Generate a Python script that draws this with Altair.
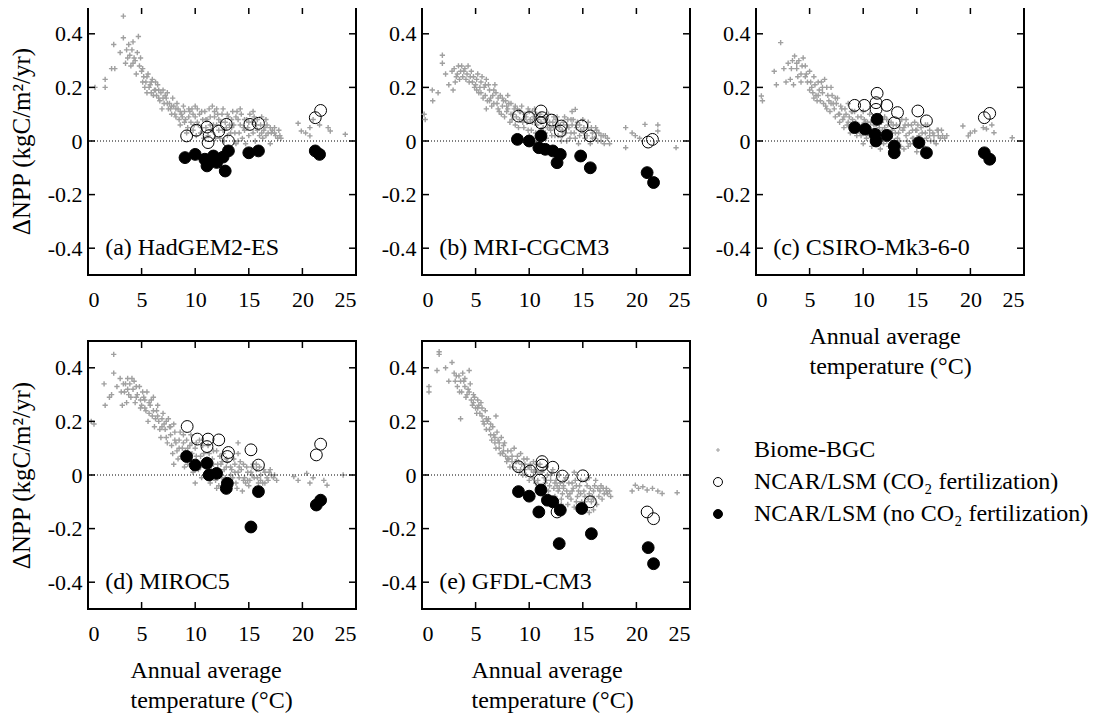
import altair as alt
import pandas as pd

FONT = "Liberation Serif"
GREY = "#a0a0a0"
W, H = 268, 268

SERIES = ["Biome-BGC", "NCAR/LSM (CO₂ fertilization)", "NCAR/LSM (no CO₂ fertilization)"]
PANEL_LABELS = ["(a) HadGEM2-ES", "(b) MRI-CGCM3", "(c) CSIRO-Mk3-6-0", "(d) MIROC5", "(e) GFDL-CM3"]
X_TICKS = [0, 5, 10, 15, 20, 25]
Y_TICKS = [-0.4, -0.2, 0, 0.2, 0.4]
INNER_X_TICKS = [5, 10, 15, 20]

# ---- Biome-BGC (grey crosses): (temperature, dNPP)
bgc_a = [(0.65,0.20),(1.6,0.23),(1.6,0.20),(2.2,0.27),(2.5,0.27),(2.4,0.36),(3.3,0.385),(3.3,0.466),(4.2,0.37),(4.7,0.39),
         (3.0,0.33),(3.6,0.34),(3.9,0.32),(4.1,0.34),(4.4,0.30),(4.6,0.33),(3.5,0.29),(4.0,0.28),(4.8,0.28),(5.0,0.26),(4.5,0.25),
         (5.2,0.24),(5.4,0.22),(5.6,0.25),(5.3,0.20),(5.8,0.21),(5.9,0.18),(6.0,0.23),(5.5,0.18),
         (6.2,0.19),(6.4,0.17),(6.5,0.21),(6.7,0.15),(6.8,0.18),(7.0,0.19),(7.1,0.14),(6.9,0.12),
         (7.3,0.16),(7.5,0.12),(7.6,0.14),(7.8,0.10),(8.0,0.13),(7.9,0.16),(8.2,0.09),(8.4,0.12),
         (8.6,0.06),(8.7,0.10),(8.9,0.13),(9.1,0.08),(9.3,0.05),(9.5,0.11),(9.6,0.07),(9.8,0.04),(10.0,0.09),(10.2,0.12),(10.3,0.06),
         (10.5,0.03),(10.7,0.08),(10.9,0.11),(11.0,0.05),(11.2,0.02),(11.4,0.09),(11.6,0.13),(11.7,0.06),(11.9,0.01),(12.1,0.10),(12.2,0.04),
         (12.4,0.07),(12.6,0.12),(12.7,0.00),(12.9,0.05),(13.1,0.09),(13.3,0.03),(13.5,0.11),(13.6,0.06),(13.8,-0.01),(14.0,0.08),(14.1,0.03),
         (14.3,0.10),(14.5,0.05),(14.7,-0.01),(14.8,0.08),(15.0,0.02),(15.3,0.07),(15.5,0.09),(15.6,0.00),(15.8,0.04),(16.1,0.06),
         (16.3,0.01),(16.5,0.05),(16.8,0.03),(17.0,-0.01),(17.2,0.04),(17.5,0.02),(17.9,0.02),(16.6,0.08),
         (19.6,0.066),(19.9,0.037),(20.7,0.019),(20.7,0.05),(21.0,0.08),(21.6,0.06),(22.4,0.05),(22.6,0.037),(24.0,0.025),(20.3,0.03),
         (5.1,0.22),(5.7,0.20),(6.1,0.17),(6.3,0.22),(6.6,0.19),(7.2,0.17),(7.4,0.14),(7.7,0.12),(8.1,0.10),(8.3,0.14),(8.5,0.08),
         (8.8,0.09),(9.0,0.11),(9.2,0.03),(9.4,0.09),(9.7,0.12),(9.9,0.06),(10.1,0.02),(10.4,0.10),(10.6,0.05),(10.8,0.01),(11.1,0.08),
         (11.3,0.12),(11.5,0.04),(11.8,0.09),(12.0,0.06),(12.3,0.01),(12.5,0.10),(12.8,0.07),(13.0,0.02),(13.2,0.06),(13.4,0.08),
         (13.7,0.03),(13.9,0.11),(14.2,0.06),(14.4,0.01),(14.6,0.08),(14.9,0.05),(15.1,0.10),(15.4,0.03),(15.7,0.06),(16.0,0.02),
         (16.2,0.09),(16.4,0.04),(16.7,0.06),(17.1,0.03),(17.4,0.05),(17.7,0.01),(4.3,0.31),(3.8,0.36),
         (3.7,0.31),(4.2,0.29),(4.9,0.31),(5.1,0.27),(5.5,0.24),(5.9,0.22),(6.3,0.19),(6.6,0.16),(7.0,0.16),(7.4,0.18),(7.8,0.13),
         (8.2,0.12),(8.6,0.11),(9.0,0.07),(9.4,0.12),(9.8,0.10),(10.2,0.07),(10.6,0.11),(11.0,0.08),(11.4,0.06),(11.8,0.11),(12.2,0.08),
         (12.6,0.04),(13.0,0.10),(13.4,0.05),(13.8,0.09),(14.2,0.12),(14.6,0.04),(15.0,0.07),(15.4,0.11),(15.8,0.08),(16.2,0.03),
         (16.6,0.02),(17.0,0.05),(17.4,0.03),(17.8,0.04),(18.0,0.01),(12.0,0.12),(10.0,0.13),(14.0,0.00)]
bgc_b = [(0.2,0.10),(0.3,0.08),(1.0,0.15),(0.96,0.19),(1.5,0.18),(1.9,0.32),(1.9,0.29),(2.2,0.25),(2.5,0.21),(2.8,0.26),(3.0,0.27),
         (3.2,0.24),(3.4,0.28),(3.6,0.26),(3.8,0.24),(4.0,0.27),(4.2,0.25),(3.1,0.22),(4.4,0.22),(4.6,0.26),(4.8,0.24),(2.9,0.19),
         (5.0,0.21),(5.2,0.25),(5.3,0.18),(5.5,0.22),(5.7,0.16),(5.8,0.20),(6.0,0.23),(6.1,0.15),
         (6.3,0.19),(6.5,0.13),(6.6,0.17),(6.8,0.21),(7.0,0.14),(7.2,0.11),(7.3,0.17),(7.5,0.13),(7.7,0.09),(7.8,0.15),(8.0,0.12),
         (8.2,0.07),(8.3,0.14),(8.5,0.10),(8.7,0.06),(8.9,0.12),(9.1,0.08),(9.3,0.13),(9.5,0.05),(9.6,0.10),(9.8,0.07),(10.0,0.11),
         (10.2,0.04),(10.4,0.09),(10.5,0.12),(10.7,0.06),(10.9,0.02),(11.0,0.10),(11.3,0.05),(11.5,0.08),(11.6,0.01),(11.8,0.10),(12.0,0.04),
         (12.2,0.07),(12.4,0.02),(12.6,0.09),(12.8,0.05),(13.0,0.00),(13.2,0.07),(13.4,0.03),(13.6,0.08),(13.8,0.01),(14.0,0.06),(14.3,0.118),(14.0,0.11),
         (14.2,0.03),(14.5,0.07),(14.6,-0.01),(14.8,0.04),(15.0,0.08),(15.2,0.01),(15.5,0.05),(15.7,-0.01),(15.9,0.03),(16.2,0.05),(16.4,0.00),(16.7,0.02),(17.0,-0.01),(17.3,0.01),
         (19.0,0.05),(19.6,0.03),(19.0,-0.025),(19.9,0.02),(20.8,0.062),(22.0,0.06),(22.0,0.037),(23.7,-0.025),(20.3,0.01),
         (3.3,0.25),(3.7,0.28),(4.1,0.23),(4.5,0.24),(4.9,0.20),(5.1,0.23),(5.4,0.20),(5.6,0.24),(5.9,0.17),(6.2,0.21),(6.4,0.16),
         (6.7,0.14),(6.9,0.18),(7.1,0.16),(7.4,0.10),(7.6,0.15),(7.9,0.11),(8.1,0.14),(8.4,0.08),(8.6,0.12),(8.8,0.09),(9.0,0.05),
         (9.2,0.11),(9.4,0.07),(9.7,0.09),(9.9,0.04),(10.1,0.08),(10.3,0.11),(10.6,0.03),(10.8,0.08),(11.1,0.04),(11.4,0.09),
         (11.7,0.05),(11.9,0.07),(12.1,0.02),(12.3,0.05),(12.5,0.08),(12.7,0.02),(12.9,0.06),(13.1,0.04),(13.3,0.09),(13.5,0.00),
         (13.7,0.05),(13.9,0.03),(14.1,0.08),(14.4,0.05),(14.7,0.02),(15.1,0.05),(15.4,0.02),(15.8,0.05),(16.1,0.01),(16.5,0.03),(16.9,0.02),
         (3.5,0.23),(3.9,0.26),(4.3,0.28),(4.7,0.22),(5.1,0.19),(5.5,0.18),(5.9,0.21),(6.3,0.15),(6.7,0.19),(7.1,0.12),(7.5,0.16),
         (7.9,0.13),(8.3,0.10),(8.7,0.13),(9.1,0.11),(9.5,0.08),(9.9,0.12),(10.3,0.07),(10.7,0.10),(11.1,0.07),(11.5,0.03),(11.9,0.05),
         (12.3,0.09),(12.7,0.06),(13.1,0.02),(13.5,0.06),(13.9,0.08),(14.3,0.01),(14.7,0.06),(15.1,0.03),(15.5,0.07),(15.9,0.01),
         (16.3,0.04),(16.7,0.00),(17.1,0.02),(17.5,-0.01),(8.0,0.17),(6.0,0.12),(10.0,0.02)]
bgc_c = [(0.5,0.168),(0.6,0.15),(1.7,0.26),(1.9,0.21),(2.3,0.367),(2.6,0.27),(3.0,0.29),(3.2,0.23),(3.6,0.317),(3.8,0.27),(4.0,0.30),
         (4.4,0.31),(4.2,0.25),(3.5,0.21),(4.6,0.28),(4.8,0.22),(5.0,0.26),(2.8,0.22),
         (5.2,0.20),(5.4,0.24),(5.6,0.17),(5.8,0.22),(6.0,0.15),(6.2,0.20),(6.4,0.23),(6.5,0.13),(6.7,0.17),(6.9,0.11),(7.0,0.20),
         (7.2,0.14),(7.4,0.09),(7.6,0.16),(7.8,0.07),(8.0,0.12),(8.2,0.05),(8.4,0.10),(8.6,0.14),(8.8,0.03),(9.0,0.08),
         (9.2,0.11),(9.4,0.02),(9.6,0.06),(9.8,0.09),(10.0,-0.01),(10.2,0.04),(10.4,0.07),(10.6,0.10),(10.8,-0.02),(11.0,0.03),
         (11.2,0.06),(11.4,0.09),(11.6,-0.03),(11.8,0.01),(12.0,0.05),(12.2,0.08),(12.4,-0.02),(12.6,0.03),(12.8,0.06),(13.0,-0.04),
         (13.2,0.01),(13.4,0.05),(13.6,0.08),(13.8,-0.03),(14.0,0.02),(14.2,0.06),(14.4,-0.01),(14.6,0.04),(14.8,0.07),(15.0,-0.04),
         (15.2,0.02),(15.4,0.05),(15.6,-0.02),(15.8,0.03),(16.0,0.06),(16.3,0.00),(16.5,0.03),(16.8,-0.01),(17.0,0.02),(17.3,0.04),(17.6,0.01),
         (19.3,0.056),(19.8,0.019),(20.4,0.037),(21.2,0.05),(21.5,0.045),(22.2,0.031),(23.9,0.012),(20.0,0.03),(22.0,0.06),
         (3.3,0.27),(3.9,0.24),(4.3,0.28),(4.7,0.25),(5.1,0.22),(5.3,0.18),(5.5,0.21),(5.7,0.15),(5.9,0.19),(6.1,0.22),(6.3,0.14),
         (6.6,0.20),(6.8,0.15),(7.1,0.17),(7.3,0.12),(7.5,0.14),(7.7,0.10),(7.9,0.13),(8.1,0.08),(8.3,0.12),(8.5,0.06),(8.7,0.09),
         (8.9,0.11),(9.1,0.05),(9.3,0.07),(9.5,0.09),(9.7,0.03),(9.9,0.06),(10.1,0.08),(10.3,0.01),(10.5,0.05),(10.7,0.07),(10.9,0.02),
         (11.1,0.08),(11.3,0.00),(11.5,0.05),(11.7,0.07),(11.9,-0.01),(12.1,0.03),(12.3,0.06),(12.5,0.01),(12.7,0.04),(12.9,0.00),
         (13.1,0.06),(13.3,0.03),(13.5,-0.02),(13.7,0.04),(13.9,0.06),(14.1,0.00),(14.3,0.03),(14.5,0.06),(14.7,0.01),(14.9,0.04),
         (15.1,0.06),(15.3,0.00),(15.5,0.03),(15.9,0.01),(16.2,0.04),(16.6,0.02),(16.9,0.04),(17.2,0.01),
         (3.4,0.30),(3.8,0.29),(4.2,0.22),(4.6,0.24),(5.0,0.19),(5.4,0.16),(5.8,0.17),(6.2,0.18),(6.6,0.12),(7.0,0.14),(7.4,0.16),
         (7.8,0.10),(8.2,0.09),(8.6,0.07),(9.0,0.11),(9.4,0.05),(9.8,0.02),(10.2,0.07),(10.6,0.02),(11.0,0.06),(11.4,0.02),(11.8,0.04),
         (12.2,0.00),(12.6,0.07),(13.0,0.03),(13.4,0.00),(13.8,0.05),(14.2,-0.02),(14.6,0.01),(15.0,0.04),(15.4,-0.01),(15.8,0.06),
         (16.2,0.02),(16.6,0.00),(17.0,0.04),(17.4,0.02),(17.8,0.02),(10.0,0.11),(12.0,0.09),(14.0,0.08)]
bgc_d = [(0.56,0.19),(0.3,0.20),(1.5,0.34),(1.6,0.26),(2.0,0.29),(2.4,0.45),(2.4,0.38),(2.7,0.33),(3.0,0.36),(3.2,0.26),(3.4,0.31),
         (3.7,0.36),(3.9,0.34),(4.0,0.29),(4.2,0.32),(4.4,0.27),(4.6,0.30),(3.6,0.27),(4.8,0.33),(5.0,0.26),(5.2,0.29),(2.2,0.30),
         (5.4,0.24),(5.5,0.31),(5.6,0.20),(5.8,0.26),(6.0,0.22),(6.1,0.29),(6.2,0.18),(6.4,0.24),(6.6,0.20),(6.8,0.14),(7.0,0.23),
         (7.2,0.17),(7.4,0.12),(7.5,0.21),(7.7,0.15),(7.9,0.08),(8.0,0.19),(8.2,0.12),(8.4,0.06),(8.6,0.16),(8.8,0.10),(9.0,0.03),
         (9.2,0.13),(9.4,0.07),(9.6,0.15),(9.8,0.01),(10.0,0.10),(10.2,0.05),(10.4,0.13),(10.6,-0.01),(10.8,0.08),(11.0,0.03),
         (11.2,0.11),(11.4,-0.03),(11.6,0.06),(11.8,0.01),(12.0,0.09),(12.2,-0.04),(12.4,0.04),(12.6,0.08),(12.8,-0.01),(13.0,0.05),
         (13.2,-0.05),(13.4,0.02),(13.6,0.06),(13.8,-0.03),(14.0,0.01),(14.2,0.05),(14.4,-0.06),(14.6,-0.01),(14.8,0.03),(15.0,-0.04),(14.0,0.12),
         (15.2,0.01),(15.4,0.04),(15.6,-0.05),(15.8,-0.01),(16.0,0.03),(16.3,-0.03),(16.5,0.01),(16.8,-0.02),(17.0,0.02),(17.4,0.00),(17.6,-0.02),
         (19.2,-0.006),(19.6,-0.02),(20.4,0.006),(20.7,-0.03),(21.0,-0.01),(22.3,-0.038),(22.0,-0.02),(23.8,0.0),
         (3.1,0.31),(3.5,0.34),(3.8,0.30),(4.3,0.35),(4.5,0.29),(4.9,0.28),(5.1,0.31),(5.3,0.25),(5.7,0.23),(5.9,0.28),(6.3,0.21),
         (6.5,0.26),(6.7,0.17),(6.9,0.21),(7.1,0.19),(7.3,0.14),(7.6,0.18),(7.8,0.11),(8.1,0.16),(8.3,0.09),(8.5,0.13),(8.7,0.07),
         (8.9,0.12),(9.1,0.09),(9.3,0.04),(9.5,0.11),(9.7,0.08),(9.9,0.04),(10.1,0.12),(10.3,0.02),(10.5,0.07),(10.7,0.11),(10.9,0.00),
         (11.1,0.06),(11.3,0.08),(11.5,0.02),(11.7,0.09),(11.9,-0.02),(12.1,0.04),(12.3,0.07),(12.5,-0.01),(12.7,0.02),(12.9,0.06),
         (13.1,-0.03),(13.3,0.03),(13.5,-0.01),(13.7,0.04),(13.9,-0.05),(14.1,-0.01),(14.3,0.02),(14.5,0.04),(14.7,-0.03),(14.9,0.01),
         (15.1,-0.02),(15.3,0.03),(15.5,-0.01),(15.7,0.02),(15.9,-0.03),(16.1,0.00),(16.4,0.02),(16.7,-0.01),(17.1,0.00),
         (3.3,0.34),(3.7,0.32),(4.1,0.36),(4.5,0.33),(4.9,0.25),(5.3,0.28),(5.7,0.27),(6.1,0.24),(6.5,0.22),(6.9,0.18),(7.3,0.20),
         (7.7,0.18),(8.1,0.13),(8.5,0.10),(8.9,0.15),(9.3,0.10),(9.7,0.12),(10.1,0.07),(10.5,0.03),(10.9,0.05),(11.3,0.03),(11.7,0.04),
         (12.1,0.01),(12.5,0.05),(12.9,0.03),(13.3,0.00),(13.7,0.01),(14.1,0.03),(14.5,-0.02),(14.9,-0.02),(15.3,0.00),(15.7,0.04),
         (16.1,-0.02),(16.5,-0.03),(16.9,0.01),(17.3,-0.01),(10.0,-0.03),(12.0,-0.05),(14.0,0.08),(8.0,0.04)]
bgc_e = [(0.65,0.33),(0.65,0.31),(1.4,0.39),(1.6,0.46),(1.6,0.45),(2.2,0.40),(2.8,0.42),(2.5,0.35),(3.0,0.38),(3.45,0.37),(3.6,0.21),
         (3.3,0.33),(3.7,0.31),(3.9,0.35),(4.1,0.29),(4.4,0.39),(4.3,0.32),(4.6,0.28),(4.8,0.30),(5.0,0.25),(5.2,0.28),(6.9,0.22),
         (5.4,0.23),(5.5,0.27),(5.7,0.20),(5.9,0.24),(6.0,0.17),(6.2,0.21),(6.4,0.15),(6.6,0.18),(6.8,0.12),(7.0,0.16),
         (7.2,0.10),(7.4,0.14),(7.5,0.08),(7.7,0.12),(7.9,0.05),(8.0,0.09),(8.2,0.03),(8.4,0.07),(8.6,0.10),(8.8,0.02),
         (9.0,0.05),(9.2,0.08),(9.4,0.00),(9.6,0.04),(9.8,0.06),(10.0,-0.02),(10.2,0.02),(10.4,0.05),(10.6,-0.03),(10.8,0.01),
         (11.0,0.04),(11.2,-0.05),(11.4,-0.01),(11.6,0.03),(11.8,-0.06),(12.0,-0.02),(12.2,0.02),(12.4,-0.08),(12.6,-0.04),(12.8,0.00),
         (13.0,-0.09),(13.2,-0.05),(13.4,-0.01),(13.6,-0.11),(13.8,-0.07),(14.0,-0.03),(14.2,0.01),(14.4,-0.10),(14.6,-0.06),(14.8,-0.02),
         (15.0,-0.12),(15.2,-0.08),(15.4,-0.04),(15.6,-0.01),(15.8,-0.10),(16.0,-0.06),(16.2,-0.02),(16.5,-0.08),(16.7,-0.04),(17.0,-0.07),
         (17.2,-0.05),(17.6,-0.08),(15.6,-0.14),(16.0,-0.13),
         (19.9,-0.038),(20.2,-0.05),(20.6,-0.044),(21.0,-0.056),(21.5,-0.05),(22.0,-0.06),(22.4,-0.069),(23.8,-0.066),(19.6,-0.06),
         (3.1,0.35),(3.5,0.31),(3.8,0.38),(4.0,0.33),(4.2,0.30),(4.5,0.34),(4.7,0.26),(4.9,0.29),(5.1,0.23),(5.3,0.26),(5.6,0.22),
         (5.8,0.19),(6.1,0.20),(6.3,0.17),(6.5,0.13),(6.7,0.15),(6.9,0.10),(7.1,0.13),(7.3,0.08),(7.6,0.11),(7.8,0.07),(8.1,0.06),
         (8.3,0.09),(8.5,0.03),(8.7,0.05),(8.9,0.07),(9.1,0.01),(9.3,0.04),(9.5,0.06),(9.7,0.00),(9.9,0.03),(10.1,0.04),(10.3,-0.01),
         (10.5,0.02),(10.7,0.04),(10.9,-0.04),(11.1,0.01),(11.3,0.02),(11.5,-0.03),(11.7,0.00),(11.9,-0.04),(12.1,0.01),(12.3,-0.05),
         (12.5,-0.02),(12.7,-0.06),(12.9,-0.03),(13.1,-0.07),(13.3,-0.02),(13.5,-0.06),(13.7,-0.03),(13.9,-0.09),(14.1,-0.05),
         (14.3,-0.02),(14.5,-0.08),(14.7,-0.04),(14.9,-0.10),(15.1,-0.06),(15.3,-0.02),(15.5,-0.09),(15.7,-0.05),(15.9,-0.08),
         (16.1,-0.04),(16.3,-0.11),(16.6,-0.06),(16.9,-0.05),(17.3,-0.07),
         (3.2,0.37),(3.6,0.35),(4.0,0.36),(4.4,0.31),(4.8,0.27),(5.2,0.25),(5.6,0.25),(6.0,0.21),(6.4,0.19),(6.8,0.14),(7.2,0.12),
         (7.6,0.09),(8.0,0.06),(8.4,0.05),(8.8,0.05),(9.2,0.02),(9.6,0.02),(10.0,0.03),(10.4,0.01),(10.8,-0.02),(11.2,0.01),(11.6,-0.02),
         (12.0,0.00),(12.4,-0.03),(12.8,-0.05),(13.2,-0.04),(13.6,-0.08),(14.0,-0.06),(14.4,-0.04),(14.8,-0.07),(15.2,-0.10),(15.6,-0.07),
         (16.0,-0.09),(16.4,-0.05),(16.8,-0.09),(17.2,-0.06),(17.5,-0.06),(14.2,-0.12),(13.0,-0.11),(11.0,-0.06)]

# ---- NCAR/LSM with CO2 fertilization (open circles)
co2_a = [(9.2,0.019),(10.1,0.04),(11.1,0.052),(11.3,0.02),(11.2,-0.006),(12.2,0.037),(12.9,0.062),(13.1,0.0),(15.1,0.062),(15.9,0.066),(21.2,0.087),(21.7,0.114)]
co2_b = [(9.0,0.093),(10.0,0.087),(11.1,0.112),(11.2,0.087),(11.1,0.068),(12.1,0.078),(13.0,0.056),(12.9,0.037),(14.9,0.056),(15.7,0.019),(21.1,-0.004),(21.5,0.006)]
co2_c = [(9.2,0.133),(10.1,0.133),(11.3,0.178),(11.2,0.143),(11.2,0.118),(12.2,0.133),(13.2,0.106),(12.9,0.068),(15.1,0.112),(15.9,0.075),(21.3,0.087),(21.8,0.103)]
co2_d = [(9.25,0.181),(10.2,0.134),(11.2,0.134),(11.1,0.106),(12.2,0.131),(13.1,0.084),(13.0,0.069),(15.2,0.094),(15.9,0.037),(21.3,0.075),(21.7,0.115)]
co2_e = [(9.0,0.031),(10.1,0.015),(11.2,0.05),(11.2,0.037),(11.0,-0.019),(12.2,0.029),(13.1,-0.004),(12.6,-0.138),(15.0,-0.003),(15.7,-0.1),(21.0,-0.138),(21.6,-0.163)]

# ---- NCAR/LSM without CO2 fertilization (filled circles)
noco2_a = [(9.05,-0.062),(10.0,-0.05),(10.9,-0.068),(11.1,-0.093),(11.7,-0.056),(12.0,-0.08),(12.6,-0.06),(13.1,-0.037),(12.8,-0.112),(15.0,-0.044),(15.9,-0.037),(21.2,-0.037),(21.6,-0.05)]
noco2_b = [(8.9,0.006),(10.0,0.0),(11.1,0.019),(10.9,-0.025),(11.5,-0.031),(12.2,-0.037),(12.9,-0.05),(12.6,-0.081),(14.8,-0.056),(15.7,-0.1),(21.0,-0.118),(21.6,-0.155)]
noco2_c = [(9.2,0.05),(10.2,0.044),(11.3,0.081),(11.1,0.025),(11.2,0.0),(12.2,0.021),(12.9,-0.019),(12.9,-0.044),(15.2,-0.006),(15.9,-0.044),(21.3,-0.044),(21.8,-0.068)]
noco2_d = [(9.2,0.069),(10.0,0.037),(11.1,0.044),(11.3,0.0),(12.0,0.006),(13.0,-0.031),(12.9,-0.05),(15.2,-0.194),(15.9,-0.062),(21.3,-0.112),(21.7,-0.094)]
noco2_e = [(9.0,-0.062),(10.0,-0.079),(11.1,-0.056),(10.9,-0.138),(11.7,-0.094),(12.2,-0.1),(12.9,-0.131),(12.8,-0.256),(14.9,-0.125),(15.8,-0.219),(21.1,-0.271),(21.6,-0.331)]

PANELS = [
    (bgc_a, co2_a, noco2_a),
    (bgc_b, co2_b, noco2_b),
    (bgc_c, co2_c, noco2_c),
    (bgc_d, co2_d, noco2_d),
    (bgc_e, co2_e, noco2_e),
]
LABEL_POS = (1.6, -0.4)
XTITLE = {2: 53, 3: 42, 4: 49}
YTITLE = {0, 3}

CROSS = "M-0.45,-0.12H0.45V0.12H-0.45Z M-0.12,-0.45H0.12V0.45H-0.12Z"

XS = alt.Scale(domain=[0, 25], nice=False, zero=False)
YS = alt.Scale(domain=[-0.5, 0.5], nice=False, zero=False)

legend = alt.Legend(
    title=None, orient="none", legendX=618, legendY=431,
    labelFont=FONT, labelFontSize=24, labelColor="black", labelLimit=600,
    symbolSize=80, symbolStrokeWidth=1, rowPadding=8, labelOffset=24, padding=0,
)

Y_LABEL_EXPR = "datum.value == 0 ? '0' : (datum.value < 0 ? '-' : '') + format(abs(datum.value), '.1f')"

VIEW = alt.ViewBackground(stroke="black", strokeWidth=2, fill="white")


def panel(i):
    bgc, co2, noco2 = PANELS[i]
    rows = []
    for name, pts in zip(SERIES, (bgc, co2, noco2)):
        for t, v in pts:
            rows.append({"series": name, "t": t, "v": v})
    df = pd.DataFrame(rows)

    xaxis_kw = dict(values=X_TICKS, ticks=False, domain=False, grid=False,
                    labelFont=FONT, labelFontSize=22, labelColor="black", labelPadding=14)
    if i in XTITLE:
        xaxis_kw.update(title=["Annual average", "temperature (°C)"], titleFont=FONT, titleFontSize=24,
                        titleFontWeight="normal", titleColor="black", titleAlign="left", titleAnchor="start",
                        titleX=XTITLE[i], titleY=49, titleBaseline="top", titleLineHeight=30)
    else:
        xaxis_kw.update(title=None)
    yaxis_kw = dict(values=Y_TICKS, ticks=False, domain=False, grid=False, labelExpr=Y_LABEL_EXPR,
                    labelFont=FONT, labelFontSize=22, labelColor="black", labelPadding=6,
                    minExtent=42, maxExtent=42)
    if i in YTITLE:
        yaxis_kw.update(title="ΔNPP (kgC/m²/yr)", titleFont=FONT, titleFontSize=25, titleFontWeight="normal",
                        titleColor="black", titlePadding=12)
    else:
        yaxis_kw.update(title=None)
    XA = alt.Axis(**xaxis_kw)
    YA = alt.Axis(**yaxis_kw)

    pts = alt.Chart(df).mark_point(size=140, filled=True, opacity=1, strokeWidth=1).encode(
        x=alt.X("t:Q", scale=XS, axis=XA),
        y=alt.Y("v:Q", scale=YS, axis=YA),
        shape=alt.Shape("series:N", scale=alt.Scale(domain=SERIES, range=[CROSS, "circle", "circle"]), legend=legend),
        fill=alt.Fill("series:N", scale=alt.Scale(domain=SERIES, range=[GREY, "transparent", "black"]), legend=legend),
        stroke=alt.Stroke("series:N", scale=alt.Scale(domain=SERIES, range=["transparent", "black", "black"]), legend=legend),
    )

    zero = alt.Chart(pd.DataFrame({"v": [0]})).mark_rule(color="black", strokeWidth=1, strokeDash=[1, 2]).encode(
        y=alt.Y("v:Q", scale=YS, axis=YA)
    )
    xt = pd.DataFrame({"t": INNER_X_TICKS})
    yt = pd.DataFrame({"v": Y_TICKS})
    tick_style = dict(color="black", strokeWidth=1.5)
    tb = alt.Chart(xt).mark_rule(**tick_style).encode(x=alt.X("t:Q", scale=XS, axis=XA), y=alt.value(H), y2=alt.value(H - 7))
    tt = alt.Chart(xt).mark_rule(**tick_style).encode(x=alt.X("t:Q", scale=XS, axis=XA), y=alt.value(0), y2=alt.value(7))
    tl = alt.Chart(yt).mark_rule(**tick_style).encode(y=alt.Y("v:Q", scale=YS, axis=YA), x=alt.value(0), x2=alt.value(7))
    tr = alt.Chart(yt).mark_rule(**tick_style).encode(y=alt.Y("v:Q", scale=YS, axis=YA), x=alt.value(W), x2=alt.value(W - 7))

    lab = alt.Chart(pd.DataFrame({"t": [LABEL_POS[0]], "v": [LABEL_POS[1]], "label": [PANEL_LABELS[i]]})).mark_text(
        align="left", baseline="middle", font=FONT, fontSize=24, color="black"
    ).encode(
        x=alt.X("t:Q", scale=XS, axis=XA), y=alt.Y("v:Q", scale=YS, axis=YA), text="label:N"
    )

    return alt.layer(pts, zero, tb, tt, tl, tr, lab).properties(width=W, height=H, view=VIEW)


chart = alt.concat(
    *[panel(i) for i in range(5)], columns=3, spacing={"row": 66, "column": 66}, bounds="flush"
).properties(
    padding={"left": 0, "top": -3, "right": 0, "bottom": 0},
    background="white",
).configure_view(
    stroke="black", strokeWidth=2
)

chart.save("out.html", embed_options={"renderer": "svg", "actions": False})
